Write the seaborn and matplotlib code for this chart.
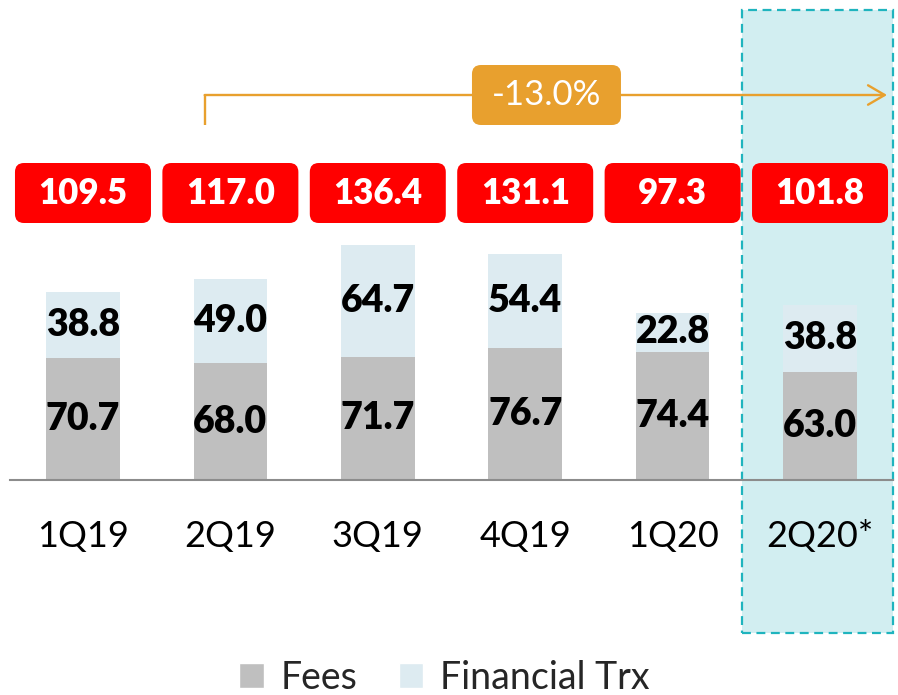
import numpy as np
import pandas as pd
import matplotlib.pyplot as plt
import seaborn as sns
from matplotlib.patches import FancyBboxPatch, Rectangle, Patch

# values
quarters = ['1Q19', '2Q19', '3Q19', '4Q19', '1Q20', '2Q20*']
fees = [70.7, 68.0, 71.7, 76.7, 74.4, 63.0]
financial_trx = [38.8, 49.0, 64.7, 54.4, 22.8, 38.8]
totals = [109.5, 117.0, 136.4, 131.1, 97.3, 101.8]
growth_label = '-13.0%'

FEES_COLOR = '#BFBFBF'
TRX_COLOR = '#DDEBF1'
RED = '#FF0000'
ORANGE = '#E8A02E'
TEAL = '#1FB4BE'
HIGHLIGHT = '#D2EEF1'

sns.set_theme(style='white')
plt.rcParams['font.family'] = ['Lato', 'DejaVu Sans']

df = pd.DataFrame({'quarter': quarters, 'fees': fees, 'trx': financial_trx})
df['stack'] = df['fees'] + df['trx']

W, H = 898, 695
fig = plt.figure(figsize=(W / 100, H / 100), dpi=100)
ax = fig.add_axes([10 / W, 215 / H, 883 / W, 480 / H])

# stacked bars: full stack first, fees drawn on top of it
sns.barplot(data=df, x='quarter', y='stack', color=TRX_COLOR, saturation=1,
            width=0.5, errorbar=None, ax=ax, zorder=2, linewidth=0)
sns.barplot(data=df, x='quarter', y='fees', color=FEES_COLOR, saturation=1,
            width=0.5, errorbar=None, ax=ax, zorder=2, linewidth=0)

ax.set_xlim(-0.495, 5.495)
ax.set_ylim(0, 279)
xu = 883 / 5.99   # px per x unit
yu = 480 / 279    # px per y unit
aspect = xu / yu

# segment labels
for i in range(len(quarters)):
    ax.text(i, fees[i] / 2, f'{fees[i]:.1f}', ha='center', va='center',
            fontsize=27, fontweight='heavy', color='black', zorder=4)
    ax.text(i, fees[i] + financial_trx[i] / 2, f'{financial_trx[i]:.1f}',
            ha='center', va='center', fontsize=27, fontweight='heavy',
            color='black', zorder=4)

# red total boxes
box_w, box_h = 136 / xu, 60 / yu
box_y = 279 - 223 / yu
for i, t in enumerate(totals):
    ax.add_patch(FancyBboxPatch((i - box_w / 2, box_y), box_w, box_h,
                                boxstyle=f'round,pad=0,rounding_size={9 / xu}',
                                mutation_aspect=aspect, fc=RED, ec='none',
                                clip_on=False, zorder=3))
    ax.text(i, box_y + box_h / 2, f'{t:.1f}', ha='center', va='center',
            fontsize=25, fontweight='heavy', color='white', zorder=4)

# highlight around last quarter
hx0 = len(quarters) - 1 - 78 / xu
hy0 = -153 / yu
ax.add_patch(Rectangle((hx0, hy0), 151 / xu, 279 - 10 / yu - hy0,
                       fc=HIGHLIGHT, ec=TEAL, lw=1.6, ls=(0, (4, 2.5)),
                       clip_on=False, zorder=0))

# growth arrow from 2Q19 to 2Q20
arr_y = 279 - 95 / yu
x_start = 1 - 25 / xu
x_end = len(quarters) - 1 + 67 / xu
ax.plot([x_start, x_start], [279 - 125 / yu, arr_y], color=ORANGE, lw=1.7,
        solid_capstyle='butt', clip_on=False, zorder=3)
ax.annotate('', xy=(x_end, arr_y), xytext=(x_start - 0.005, arr_y),
            arrowprops=dict(arrowstyle='->,head_length=0.6,head_width=0.35',
                            color=ORANGE, lw=1.7, mutation_scale=20,
                            shrinkA=0, shrinkB=0),
            annotation_clip=False, zorder=3)
lab_x = (546.5 - 83) / xu
lab_w, lab_h = 149 / xu, 60 / yu
ax.add_patch(FancyBboxPatch((lab_x - lab_w / 2, arr_y - lab_h / 2), lab_w, lab_h,
                            boxstyle=f'round,pad=0,rounding_size={9 / xu}',
                            mutation_aspect=aspect, fc=ORANGE, ec='none',
                            clip_on=False, zorder=4))
ax.text(lab_x, arr_y, growth_label, ha='center', va='center', fontsize=25,
        color='white', zorder=5)

# axes styling
sns.despine(ax=ax, left=True)
ax.spines['bottom'].set_color('#8C8C8C')
ax.spines['bottom'].set_linewidth(1.5)
ax.spines['bottom'].set_zorder(2.5)
ax.set_yticks([])
ax.set_xlabel('')
ax.set_ylabel('')
ax.tick_params(axis='x', length=0, pad=29, labelsize=26, labelcolor='black')
ax.patch.set_visible(False)

fig.legend(handles=[Patch(fc=FEES_COLOR), Patch(fc=TRX_COLOR)],
           labels=['Fees', 'Financial Trx'], loc='lower center',
           bbox_to_anchor=(0.495, -0.05), ncol=2, frameon=False, fontsize=27,
           handlelength=0.65, handleheight=0.65, columnspacing=1.1,
           handletextpad=0.45)

fig.savefig('out.png', dpi=100)
